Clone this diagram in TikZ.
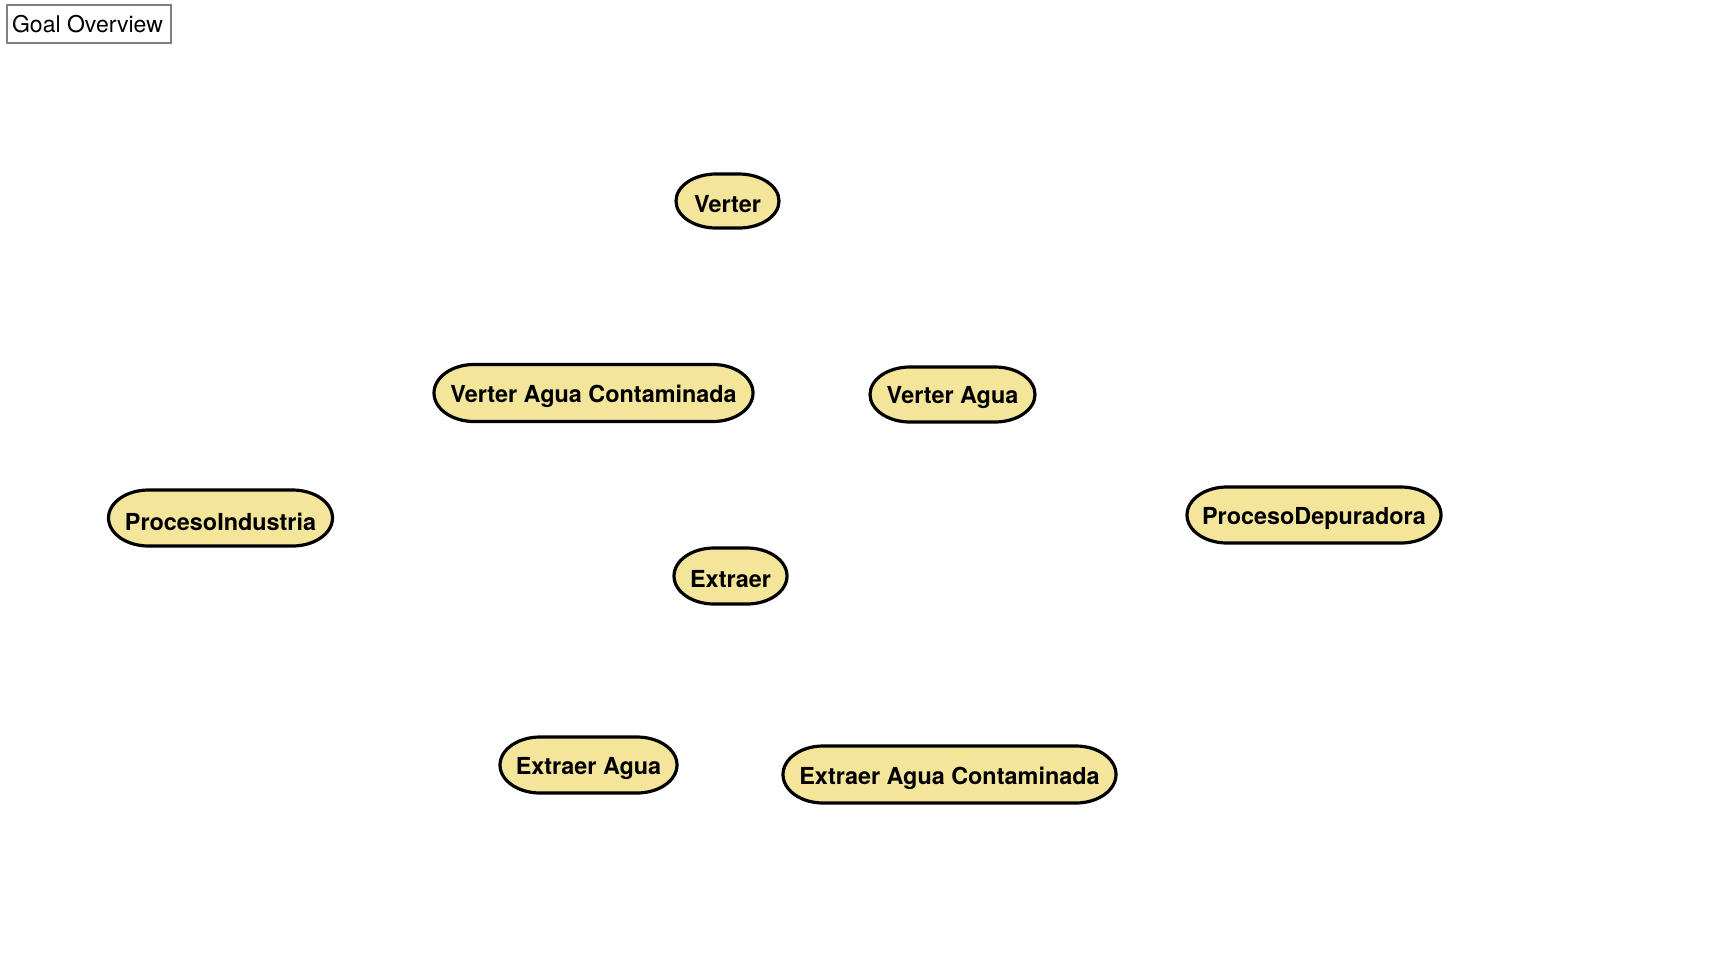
\documentclass[tikz,border=0pt]{standalone}
\usepackage{fontspec}
\setmainfont{TeX Gyre Heros}
\definecolor{pillfill}{RGB}{243,229,154}
\definecolor{boxgray}{RGB}{128,128,128}
\tikzset{
  pillshape/.style={draw=black, line width=3.2pt, fill=pillfill},
  pilltext/.style={inner sep=0pt, font=\fontsize{23.4}{28}\selectfont\bfseries, text=black},
  titlebox/.style={draw=boxgray, line width=1.6pt, fill=white, inner sep=0pt,
    minimum width=164pt, minimum height=38pt, font=\fontsize{23}{27}\selectfont}
}
\newcommand\pill[6]{%
  \pgfmathsetmacro\pxl{#2-#4/2}%
  \pgfmathsetmacro\pxr{#2+#4/2}%
  \pgfmathsetmacro\pyt{-(#3)+#5/2}%
  \pgfmathsetmacro\pyb{-(#3)-#5/2}%
  \pgfmathsetmacro\prx{min(40,#4/2)}%
  \pgfmathsetmacro\pry{#5/2}%
  \draw[pillshape] ({\pxl+\prx},\pyt) -- ({\pxr-\prx},\pyt)
    arc[start angle=90,end angle=-90,x radius=\prx,y radius=\pry]
    -- ({\pxl+\prx},\pyb)
    arc[start angle=270,end angle=90,x radius=\prx,y radius=\pry] -- cycle;
  \node[pilltext] (#1) at (#2,{-(#3)-3.5}) {#6};
}
\begin{document}
\begin{tikzpicture}[x=1pt,y=1pt]
\useasboundingbox[fill=white] (0,0) rectangle (1712,-956);
\node[titlebox] (title) at (89,-24) {\hspace*{-3pt}Goal Overview};
\pill{verter}{727.5}{201}{103}{54}{Verter}
\pill{vac}{593.5}{393}{319}{57}{Verter Agua Contaminada}
\pill{va}{952.5}{394.5}{165}{55}{Verter Agua}
\pill{pi}{220.5}{518}{224}{56}{ProcesoIndustria}
\pill{pd}{1314}{515}{254}{56}{ProcesoDepuradora}
\pill{extraer}{730.5}{576}{113}{56}{Extraer}
\pill{ea}{588.5}{765}{177}{56}{Extraer Agua}
\pill{eac}{949.5}{774.5}{333}{57}{Extraer Agua Contaminada}
\end{tikzpicture}
\end{document}
